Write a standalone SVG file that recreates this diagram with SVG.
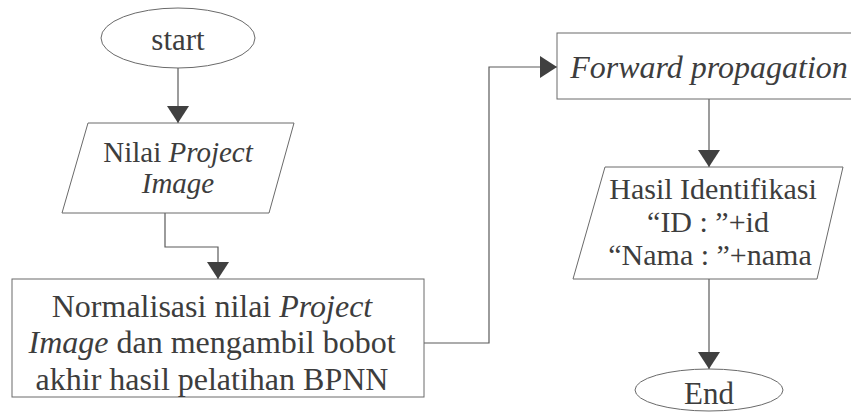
<svg xmlns="http://www.w3.org/2000/svg" width="851" height="412" viewBox="0 0 851 412">
  <defs>
    <style>
      .shape { fill: #ffffff; stroke: #6a6a6a; stroke-width: 1; }
      .link { fill: none; stroke: #5a5a5a; stroke-width: 1.2; }
      .caption { font-family: "Liberation Serif", "Times New Roman", serif; fill: #3d3d3d; text-anchor: middle; }
      .it { font-style: italic; }
    </style>
    <marker id="arrow" viewBox="0 0 17 22" refX="17" refY="11" markerWidth="17" markerHeight="22" markerUnits="userSpaceOnUse" orient="auto">
      <path d="M0,0 L17,11 L0,22 Z" fill="#404040"/>
    </marker>
  </defs>
  <rect width="851" height="412" fill="#ffffff"/>

  <!-- flow connectors -->
  <g id="connectors">
    <path class="link" d="M178,68 V123" marker-end="url(#arrow)"/>
    <path class="link" d="M165,213 V247 H218 V279" marker-end="url(#arrow)"/>
    <path class="link" d="M424,343 H489 V67 H557" marker-end="url(#arrow)"/>
    <path class="link" d="M709,99 V167" marker-end="url(#arrow)"/>
    <path class="link" d="M709,279 V369" marker-end="url(#arrow)"/>
  </g>

  <g id="start">
    <ellipse class="shape" cx="178" cy="38" rx="77" ry="30"/>
    <text class="caption" x="178" y="50" font-size="31">start</text>
  </g>

  <g id="input-project-image">
    <polygon class="shape" points="88,123 294,123 269,213 62,213"/>
    <text class="caption" x="178" y="162" font-size="29">Nilai <tspan class="it">Project</tspan></text>
    <text class="caption it" x="178" y="193" font-size="29">Image</text>
  </g>

  <g id="normalisasi">
    <rect class="shape" x="12" y="279" width="412" height="118"/>
    <text class="caption" x="212" y="317" font-size="32">Normalisasi nilai <tspan class="it">Project</tspan></text>
    <text class="caption" x="212" y="353" font-size="32"><tspan class="it">Image</tspan> dan mengambil bobot</text>
    <text class="caption" x="212" y="390" font-size="32">akhir hasil pelatihan BPNN</text>
  </g>

  <g id="forward-propagation">
    <rect class="shape" x="557" y="33" width="310" height="66"/>
    <text class="caption it" x="709" y="78" font-size="32">Forward propagation</text>
  </g>

  <g id="hasil-identifikasi">
    <polygon class="shape" points="605,167 843,167 817,279 573,279"/>
    <text class="caption" x="713" y="199" font-size="30">Hasil Identifikasi</text>
    <text class="caption" x="708" y="232" font-size="30">&#8220;ID : &#8221;+id</text>
    <text class="caption" x="710" y="265" font-size="30">&#8220;Nama : &#8221;+nama</text>
  </g>

  <g id="end">
    <ellipse class="shape" cx="709" cy="390" rx="74" ry="21"/>
    <text class="caption" x="709" y="404" font-size="31">End</text>
  </g>
</svg>
